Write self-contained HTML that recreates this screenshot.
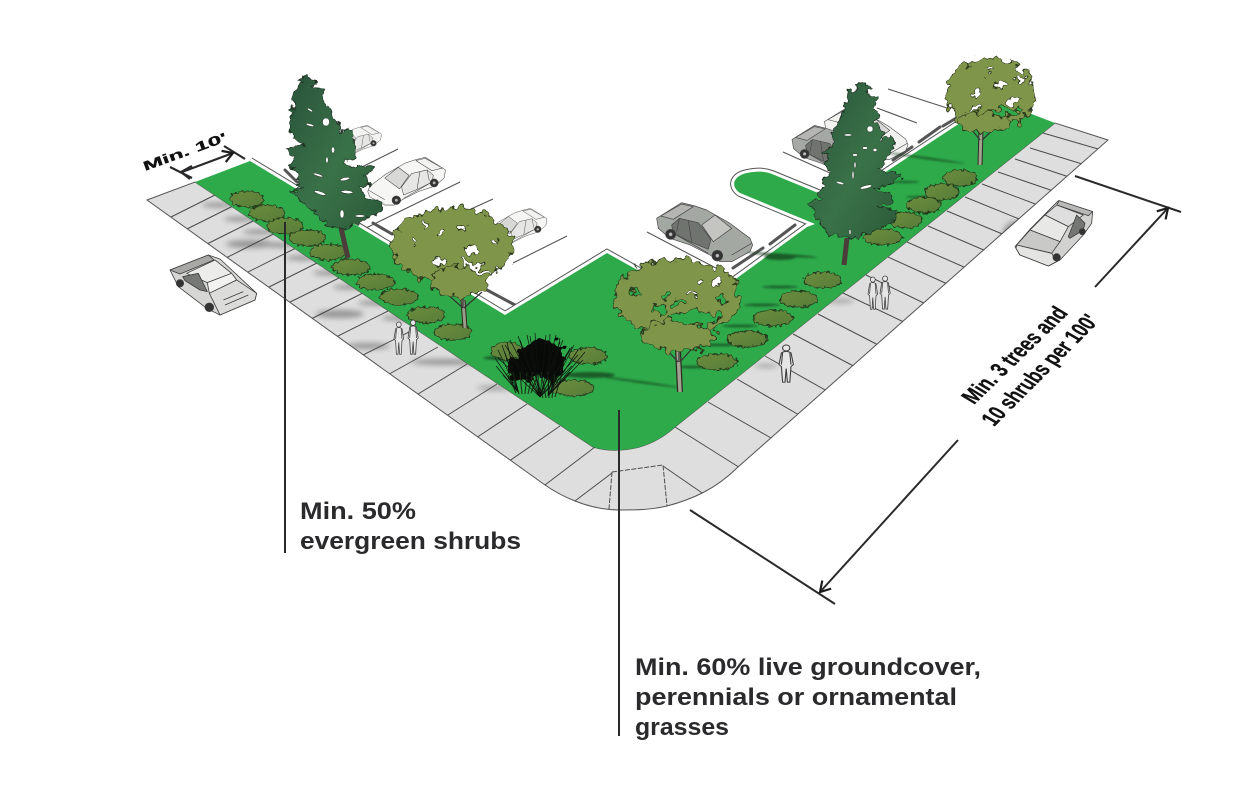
<!DOCTYPE html>
<html><head><meta charset="utf-8"><style>
html,body{margin:0;padding:0;background:#fff}
svg{display:block}
text{font-family:"Liberation Sans",sans-serif;font-weight:bold;fill:#2a2a2c}
</style></head><body>
<svg xmlns="http://www.w3.org/2000/svg" width="1244" height="791" viewBox="0 0 1244 791">
<defs>
<filter id="lobe" x="-25%" y="-25%" width="150%" height="150%" color-interpolation-filters="sRGB"><feTurbulence type="fractalNoise" baseFrequency=".12" numOctaves="2" seed="4"/><feDisplacementMap in="SourceGraphic" scale="17" xChannelSelector="R" yChannelSelector="G"/></filter>
<filter id="shrub" x="-25%" y="-40%" width="150%" height="180%" color-interpolation-filters="sRGB"><feTurbulence type="fractalNoise" baseFrequency=".3" numOctaves="1" seed="8"/><feDisplacementMap in="SourceGraphic" scale="6" xChannelSelector="R" yChannelSelector="G"/></filter>
<filter id="pinef" x="-15%" y="-10%" width="130%" height="120%" color-interpolation-filters="sRGB"><feTurbulence type="fractalNoise" baseFrequency=".16" numOctaves="2" seed="5"/><feDisplacementMap in="SourceGraphic" scale="9" xChannelSelector="R" yChannelSelector="G"/></filter>
<filter id="b2" x="-40%" y="-200%" width="180%" height="500%"><feGaussianBlur stdDeviation="2.6"/></filter>
<filter id="b1" x="-40%" y="-200%" width="180%" height="500%"><feGaussianBlur stdDeviation="1"/></filter>
<linearGradient id="pg" x1="0" y1="0" x2="1" y2="1"><stop offset="0" stop-color="#28523a"/><stop offset=".55" stop-color="#3a7248"/><stop offset="1" stop-color="#2b5939"/></linearGradient>
<linearGradient id="sh" x1="0" y1="0" x2="1" y2="1"><stop offset="0" stop-color="#6b8c3e"/><stop offset="1" stop-color="#587d39"/></linearGradient>
<clipPath id="walk"><path d="M147,200 L195,182 L593,447 Q606,451 620,450 Q650,449 675,427 L1055,123 L1108,140 L738,467 C715,490 690,500 667,506 C650,510 635,510 620,510 C605,510 590,507 575,501 C565,497 555,492 545,485Z"/></clipPath>
<marker id="ah" viewBox="0 0 14 14" refX="12" refY="7" markerWidth="14" markerHeight="14" orient="auto" markerUnits="userSpaceOnUse"><path d="M2,1 L12,7 L2,13" fill="none" stroke="#1c1c1c" stroke-width="2.2"/></marker>
<g id="car" stroke="#444" stroke-width="2" stroke-linejoin="round">
<path d="M50,85 L125,38 L165,48 L200,60 L270,100 L330,145 L338,165 L330,185 L275,215 L240,215 L210,195 L150,165 L90,145 L55,115Z"/>
<path d="M62,78 L125,42 L160,50 L100,88Z" style="fill:var(--t,#b5b5b3)"/>
<path d="M185,105 L225,75 L275,115 L220,155Z" style="fill:var(--g,#c4c4c0)"/>
<path d="M95,105 L118,85 L175,98 L213,148 L205,178 L150,155 L100,130Z" style="fill:var(--w,#70746f)"/>
<path d="M145,92 L155,155 M118,85 L110,125 M100,130 L205,190 M275,195 L335,160" fill="none"/>
<circle cx="92" cy="133" r="15" fill="#333"/><circle cx="92" cy="133" r="6" fill="#bbb"/>
<circle cx="232" cy="197" r="16" fill="#333"/><circle cx="232" cy="197" r="6" fill="#bbb"/>
</g>
<g id="man" fill="#e6e6e6" stroke="#3a3a3a" stroke-width=".9">
<circle cx="6" cy="3" r="3"/><path d="M2,8 Q6,5 10,8 L12,20 L10,22 L9,38 L7,38 L6,24 L5,38 L3,38 L2,22 L0,20Z"/><path d="M3,8 L2,20 M9,8 L10,20" fill="none"/>
</g>
</defs>
<rect width="1244" height="791" fill="#fff"/>

<g stroke="#555" stroke-width="1.1" fill="none">
<path d="M398,149 L360,168 M460,182 L366,228 M493,199 L460,214 M567,236 L513,263"/>
<path d="M647,232 L733,277 M783,152 L830,173 M888,89 L947,108 M877,108 L917,123"/>
</g>
<g stroke="#555" stroke-width="3" stroke-linecap="round" fill="none">
<path d="M285,170 L297,182 M373,223 L392,234 M487,290 L515,305"/>
<path d="M733,268 L763,248 M770,244 L795,225 M893,160 L912,147 M919,142 L940,127 M943,126 L958,117"/>
</g>
<g style="--w:#e6e6e4;--t:#f2f2f0;--g:#d8d8d6">
<use href="#car" transform="translate(391,118) scale(-.19,.19)" fill="#f4f4f2"/>
<use href="#car" transform="translate(459,147) scale(-.27,.27)" fill="#f6f6f4"/>
<use href="#car" transform="translate(558,200) scale(-.22,.22)" fill="#f6f6f4"/>
<use href="#car" transform="translate(810,97) scale(.29)" fill="#f2f2f0"/>
</g>
<use href="#car" transform="translate(777,114) scale(.3)" fill="#a5a8a4"/>
<use href="#car" transform="translate(640,190) scale(.3333)" fill="#a4a8a3"/>

<path d="M250,161 L505,315 L607,253 L700,305 L807,227 L815,224 L740,193 C730,186 733,176 747,173 C757,171 764,171 772,174 L840,202 L957,125 L995,100" fill="none" stroke="#555" stroke-width="8"/>
<path d="M250,161 L505,315 L607,253 L700,305 L807,227 L815,224 L740,193 C730,186 733,176 747,173 C757,171 764,171 772,174 L840,202 L957,125 L995,100" fill="none" stroke="#fff" stroke-width="6"/>

<path d="M147,200 L195,182 L593,447 Q606,451 620,450 Q650,449 675,427 L1055,123 L1108,140 L738,467 C715,490 690,500 667,506 C650,510 635,510 620,510 C605,510 590,507 575,501 C565,497 555,492 545,485Z" fill="#dedede" stroke="#555" stroke-width="1"/>
<path d="M195,182 L250,161 L505,315 L607,253 L700,305 L807,227 L815,224 L740,193 C730,186 733,176 747,173 C757,171 764,171 772,174 L840,202 L957,125 L995,100 L1055,123 L675,427 Q650,449 620,450 Q606,451 593,447Z" fill="#2eaa4b"/>

<g clip-path="url(#walk)">
<g stroke="#4c4c4c" stroke-width="1" fill="none">
<path d="M165,220L215,195M181,232L232,206.5M201,247L253,221M220,261L273.5,234M240,276L295,248.5M261,291L317,263M282,306L339,278M305,322L362,293.5M330,340L388,311M355,359L415,329M382,378L438,347M410,399L467,364M440,420L497,384M470,442L527,404M502,466L560,426M537,491L595,447M567,507L612,473M663,466L708,497M675,427L745,471"/>
<path d="M708,402L778,442M737,379L806,419M765,356L834,395M793,334L861,370M818,314L886,349M843,293L910,325M866,275L932,307M888,257L954,287M907,242L973,271M928,226L993,254M947,211L1012,238M965,197L1029,223M982,184L1046,208M998,172L1062,194M1015,159L1078,180M1030,148L1092,167M1043,133L1105,151"/>
<path d="M612,472 L663,465 L667,506 M612,472 L609,509" stroke-dasharray="5 1.5"/>
</g>
<g fill="#333" opacity=".42" filter="url(#b2)">
<ellipse cx="218" cy="205" rx="16" ry="2.5"/><ellipse cx="240" cy="219" rx="16" ry="2.5"/><ellipse cx="259" cy="232" rx="16" ry="2.5"/>
<ellipse cx="250" cy="244" rx="24" ry="4"/><ellipse cx="279" cy="245" rx="16" ry="2.5"/><ellipse cx="302" cy="258" rx="16" ry="2.5"/>
<ellipse cx="329" cy="273" rx="16" ry="2.5"/><ellipse cx="349" cy="287" rx="16" ry="2.5"/><ellipse cx="340" cy="314" rx="24" ry="4"/>
<ellipse cx="374" cy="303" rx="16" ry="2.5"/><ellipse cx="398" cy="318" rx="16" ry="2.5"/><ellipse cx="368" cy="346" rx="22" ry="3"/>
<ellipse cx="445" cy="362" rx="34" ry="3"/><ellipse cx="495" cy="388" rx="18" ry="2"/>
<ellipse cx="1012" cy="230" rx="11" ry="7" transform="rotate(-45 1012 230)"/>
<ellipse cx="840" cy="301" rx="14" ry="1.8"/><ellipse cx="766" cy="366" rx="12" ry="1.5"/>
</g>
</g>
<g fill="#16401f" opacity=".75" filter="url(#b1)">
<ellipse cx="905" cy="182" rx="14" ry="1"/><ellipse cx="920" cy="197" rx="14" ry="1"/><ellipse cx="780" cy="287" rx="18" ry="1.3"/><ellipse cx="762" cy="305" rx="18" ry="1.3"/><ellipse cx="740" cy="326" rx="18" ry="1.3"/><ellipse cx="720" cy="345" rx="18" ry="1.3"/><ellipse cx="695" cy="367" rx="18" ry="1.3"/>
<ellipse cx="782" cy="255" rx="35" ry="1.3" transform="rotate(4 782 255)"/><ellipse cx="780" cy="257" rx="16" ry="3"/>
<ellipse cx="640" cy="382" rx="40" ry="1" transform="rotate(8 640 382)"/><ellipse cx="590" cy="375" rx="25" ry="3"/>
<ellipse cx="925" cy="158" rx="40" ry="1" transform="rotate(8 925 158)"/>
<ellipse cx="505" cy="358" rx="22" ry="2"/>
</g>

<g fill="url(#sh)" stroke="#24391c" stroke-width="1" filter="url(#shrub)">
<ellipse cx="247" cy="199" rx="17" ry="8"/><ellipse cx="267" cy="213" rx="18" ry="8"/><ellipse cx="285" cy="226" rx="18" ry="8"/><ellipse cx="307" cy="238" rx="18" ry="8"/><ellipse cx="328" cy="252" rx="18" ry="8"/><ellipse cx="351" cy="267" rx="19" ry="8"/><ellipse cx="376" cy="282" rx="19" ry="8"/><ellipse cx="399" cy="297" rx="19" ry="8"/><ellipse cx="426" cy="315" rx="19" ry="8"/><ellipse cx="453" cy="332" rx="19" ry="8"/>
<ellipse cx="960" cy="178" rx="17" ry="8"/><ellipse cx="942" cy="192" rx="17" ry="8"/><ellipse cx="924" cy="205" rx="17" ry="8"/><ellipse cx="905" cy="220" rx="17" ry="8"/><ellipse cx="883" cy="237" rx="19" ry="8"/><ellipse cx="823" cy="280" rx="19" ry="8"/><ellipse cx="799" cy="299" rx="19" ry="8"/><ellipse cx="773" cy="318" rx="20" ry="8"/><ellipse cx="747" cy="339" rx="20" ry="8"/><ellipse cx="717" cy="362" rx="20" ry="8"/>
<ellipse cx="507" cy="351" rx="16" ry="9"/><ellipse cx="588" cy="356" rx="19" ry="8"/><ellipse cx="573" cy="388" rx="21" ry="8"/>
</g>

<g>
<g filter="url(#lobe)" fill="#080a08">
<ellipse cx="542" cy="356" rx="24" ry="16"/>
<ellipse cx="522" cy="370" rx="15" ry="12"/>
<ellipse cx="548" cy="372" rx="14" ry="9"/>
</g>
<path d="M516,393L508,375M519,394L513,372M522,394L520,372M525,394L527,372M528,394L533,372M531,393L538,374M543,398L535,375M546,398L541,372M549,398L548,372M552,398L555,372M555,397L562,374" stroke="#1c3216" stroke-width="1.1" fill="none"/>
<path d="M540,397L505,345M540,397L510,340M540,397L518,336M540,397L527,335M540,397L535,333M540,397L546,335M540,397L556,335M540,397L563,340M540,397L572,347M540,397L578,355M540,397L572,366M540,397L510,356M540,397L498,358M518,392L498,350M518,392L496,366M518,392L503,375M518,392L495,358M518,392L507,342M548,396L578,350M548,396L583,360M548,396L560,338M548,396L550,334M548,396L570,372M540,397L520,340M540,397L530,336M540,397L560,342M540,397L568,352M518,392L502,345M518,392L505,353M548,396L574,345M548,396L570,348M548,396L585,352" stroke="#0e130e" stroke-width=".7" fill="none"/>
</g>

<path d="M341,228 L348,258" stroke="#4b3d3a" stroke-width="5"/>
<g filter="url(#pinef)">
<path transform="translate(270,70) scale(.3333)" d="M110,15 L140,35 L125,50 L160,60 L155,90 L185,125 L210,175 L205,190 L240,175 L255,210 L255,260 L220,282 L250,290 L310,285 L312,305 L280,315 L300,345 L270,355 L290,385 L340,400 L330,430 L280,450 L220,478 L170,470 L150,440 L100,398 L60,368 L95,355 L80,345 L90,320 L62,285 L70,262 L48,230 L100,225 L60,190 L55,155 L70,130 L60,120 L80,100 L65,90 L70,60 L95,40 L85,25Z" fill="url(#pg)" stroke="#1d2e20" stroke-width="2.4"/>
</g>
<g fill="#fff" stroke="#2a3a2a" stroke-width=".5">
<ellipse cx="326" cy="122" rx="3.5" ry="4"/><ellipse cx="310" cy="125" rx="4" ry="1.2" transform="rotate(15 310 125)"/><ellipse cx="310" cy="110" rx="3" ry="1" transform="rotate(30 310 110)"/>
<ellipse cx="333" cy="150" rx="1.6" ry="3"/><ellipse cx="327" cy="160" rx="1.2" ry="3"/>
<ellipse cx="318" cy="175" rx="5" ry="1.2" transform="rotate(18 318 175)"/><ellipse cx="345" cy="179" rx="5" ry="1.5" transform="rotate(-12 345 179)"/><ellipse cx="347" cy="192" rx="6" ry="1.5" transform="rotate(5 347 192)"/>
<ellipse cx="320" cy="193" rx="6" ry="1.5" transform="rotate(18 320 193)"/><ellipse cx="342" cy="214" rx="2" ry="4"/><ellipse cx="360" cy="216" rx="5" ry="1.2"/>
</g>
<path d="M847,238 L844,265" stroke="#4b3d3a" stroke-width="5"/>
<g filter="url(#pinef)">
<path transform="translate(780,75) scale(.3333)" d="M255,20 L280,40 L260,55 L292,65 L285,100 L300,120 L285,140 L310,175 L302,195 L330,180 L345,200 L335,230 L310,260 L300,285 L345,290 L365,300 L340,320 L280,345 L330,350 L340,385 L290,395 L355,410 L340,440 L290,465 L215,490 L195,485 L150,480 L120,445 L85,380 L125,375 L110,355 L135,335 L125,315 L155,290 L130,265 L150,250 L130,235 L160,210 L160,165 L175,145 L190,110 L190,90 L205,65 L200,50 L235,40 L230,30Z" fill="url(#pg)" stroke="#1d2e20" stroke-width="2.4"/>
</g>
<g fill="#fff" stroke="#2a3a2a" stroke-width=".5">
<ellipse cx="870" cy="129" rx="3" ry="3"/><ellipse cx="848" cy="135" rx="4" ry="1.1"/><ellipse cx="865" cy="148" rx="2.5" ry="1.3"/><ellipse cx="875" cy="150" rx="2" ry="1.6"/>
<ellipse cx="855" cy="155" rx="2.5" ry="1.2"/><ellipse cx="855" cy="165" rx="1" ry="3"/><ellipse cx="840" cy="183" rx="4" ry="1.1" transform="rotate(15 840 183)"/>
<ellipse cx="866" cy="187" rx="6" ry="1.6" transform="rotate(-14 866 187)"/><ellipse cx="853" cy="175" rx="1" ry="4"/><ellipse cx="850" cy="232" rx="1" ry="2.5"/>
</g>

<path d="M463,300 L465,328" stroke="#2a2a22" stroke-width="5"/><path d="M463,300 L465,328" stroke="#9a9a88" stroke-width="3"/>
<path d="M445,292 L463,308 M482,292 L464,308 M463,290 L463,308" stroke="#333" stroke-width="1.2" fill="none"/>
<g filter="url(#lobe)" stroke="#2a361c" stroke-width="1">
<ellipse cx="452" cy="246" rx="60" ry="38" fill="#7f9549"/>
<ellipse cx="458" cy="282" rx="30" ry="15" fill="#7f9549"/>
<ellipse cx="475" cy="267" rx="18" ry="3" transform="rotate(25 475 267)" fill="#fff"/>
<ellipse cx="472" cy="250" rx="7" ry="4" fill="#fff"/><ellipse cx="440" cy="232" rx="4" ry="3" fill="#fff"/><ellipse cx="415" cy="240" rx="2.5" ry="2.5" fill="#fff"/><ellipse cx="440" cy="262" rx="5" ry="3" fill="#fff"/><ellipse cx="495" cy="240" rx="4" ry="3" fill="#fff"/><ellipse cx="425" cy="225" rx="2.5" ry="2" fill="#fff"/><ellipse cx="462" cy="228" rx="3.5" ry="3" fill="#fff"/>
</g>
<path d="M678,350 L680,392" stroke="#2a2a22" stroke-width="6"/><path d="M678,350 L680,392" stroke="#a2a290" stroke-width="3.5"/>
<path d="M660,342 L678,362 M698,342 L680,362 M679,340 L679,362" stroke="#333" stroke-width="1.2" fill="none"/>
<g filter="url(#lobe)" stroke="#2a361c" stroke-width="1">
<ellipse cx="677" cy="297" rx="63" ry="38" fill="#7f9549"/>
<ellipse cx="678" cy="336" rx="38" ry="15" fill="#7f9549"/>
<ellipse cx="695" cy="318" rx="25" ry="6" fill="#2eaa4b"/>
<ellipse cx="660" cy="309" rx="5" ry="3.5" fill="#2eaa4b"/><ellipse cx="635" cy="293" rx="3" ry="2" fill="#2eaa4b"/><ellipse cx="665" cy="296" rx="4" ry="3" fill="#2eaa4b"/><ellipse cx="680" cy="303" rx="6" ry="3" fill="#2eaa4b"/><ellipse cx="722" cy="300" rx="5" ry="4" fill="#2eaa4b"/><ellipse cx="700" cy="282" rx="4" ry="3" fill="#fff"/><ellipse cx="692" cy="293" rx="4" ry="2" fill="#fff"/><ellipse cx="715" cy="283" rx="3" ry="3" fill="#fff"/>
</g>
<path d="M981,130 L980,165" stroke="#2a2a22" stroke-width="5"/><path d="M981,130 L980,165" stroke="#a2a290" stroke-width="3"/>
<path d="M968,125 L980,140 M998,125 L982,140" stroke="#333" stroke-width="1.2" fill="none"/>
<g filter="url(#lobe)" stroke="#2a361c" stroke-width="1">
<ellipse cx="990" cy="94" rx="45" ry="35" fill="#7f9549"/>
<ellipse cx="985" cy="122" rx="26" ry="10" fill="#7f9549"/>
<ellipse cx="1005" cy="112" rx="17" ry="4" fill="#2eaa4b"/>
<ellipse cx="1000" cy="85" rx="6" ry="4" fill="#fff"/><ellipse cx="975" cy="95" rx="4" ry="3" fill="#fff"/><ellipse cx="1015" cy="100" rx="7" ry="4" fill="#fff"/><ellipse cx="975" cy="108" rx="6" ry="3" fill="#fff"/><ellipse cx="990" cy="70" rx="3" ry="2" fill="#fff"/><ellipse cx="1020" cy="80" rx="4" ry="3" fill="#fff"/>
</g>

<g transform="translate(120,60) scale(.3333)" stroke="#3d3d3d" stroke-width="2.4" stroke-linejoin="round">
<path d="M150,630 L265,585 L300,597 L410,700 L405,720 L300,765 L260,745 L175,680Z" fill="#d6d6d4"/>
<path d="M150,630 L265,585 L282,600 L180,642Z" fill="#a8a8a6"/>
<path d="M200,640 L285,600 L335,640 L262,668Z" fill="#ececea"/>
<path d="M262,668 L335,640 L350,660 L268,700Z" fill="#f2f2f0"/>
<path d="M268,700 L350,660 L410,700 L405,720 L300,765Z" fill="#dcdcda"/>
<path d="M188,650 L235,640 L262,695 L240,690 L195,662Z" fill="#757874"/>
<path d="M310,720 L370,695 M315,735 L385,705" fill="none"/>
<circle cx="180" cy="670" r="11" fill="#333"/><circle cx="268" cy="742" r="13" fill="#333"/>
</g>
<g transform="translate(920,170) scale(.3333)" stroke="#3d3d3d" stroke-width="2.4" stroke-linejoin="round">
<path d="M285,230 L330,178 L415,92 L518,125 L515,160 L490,195 L420,270 L385,288 L300,255Z" fill="#d2d2d0"/>
<path d="M418,92 L518,125 L505,137 L410,105Z" fill="#b9b9b7"/>
<path d="M375,135 L410,105 L490,135 L445,170Z" fill="#dedede"/>
<path d="M330,180 L375,135 L445,170 L420,215Z" fill="#e8e8e6"/>
<path d="M290,225 L330,180 L420,215 L395,250Z" fill="#c9c9c7"/>
<path d="M445,200 L470,135 L495,160 L490,180 L450,205Z" fill="#737672"/>
<path d="M288,235 L300,255 L385,288 L410,275 L395,250 L290,225Z" fill="#e4e4e2"/>
<circle cx="410" cy="262" r="11" fill="#333"/><circle cx="487" cy="185" r="9" fill="#333"/>
</g>

<use href="#man" transform="translate(394,322) scale(.8,.85)"/>
<use href="#man" transform="translate(408,320) scale(.85,.9)"/>
<use href="#man" transform="translate(868,277) scale(.8,.85)"/>
<use href="#man" transform="translate(880,276) scale(.85,.87)"/>
<use href="#man" transform="translate(779,345) scale(1.2,.98)" />

<g stroke="#2a2a2c" fill="none">
<path d="M285,222 V553" stroke-width="2"/>
<path d="M619,410 V736" stroke-width="2"/>
<path d="M690,510 L835,604" stroke-width="2"/>
<path d="M1075,176 L1181,212" stroke-width="2"/>
<path d="M958,440 L820,592" stroke-width="2" marker-end="url(#ah)"/>
<path d="M1095,287 L1168,208" stroke-width="2" marker-end="url(#ah)"/>
<path d="M170,167 L192,178 M224,146 L245,159" stroke-width="2.2"/>
<path d="M182,172 L233,153" stroke-width="2.2" marker-end="url(#ah)"/>
<path d="M192,166 L181,172 L190,179" stroke-width="2.2"/>
</g>

<text x="300" y="519" font-size="24" textLength="116" lengthAdjust="spacingAndGlyphs">Min. 50%</text>
<text x="300" y="549" font-size="24" textLength="221" lengthAdjust="spacingAndGlyphs">evergreen shrubs</text>
<text x="635" y="675" font-size="24" textLength="346" lengthAdjust="spacingAndGlyphs">Min. 60% live groundcover,</text>
<text x="635" y="705" font-size="24" textLength="322" lengthAdjust="spacingAndGlyphs">perennials or ornamental</text>
<text x="635" y="735" font-size="24" textLength="94" lengthAdjust="spacingAndGlyphs">grasses</text>
<text transform="translate(974,405) rotate(-44) skewX(15)" font-size="23" textLength="132" lengthAdjust="spacingAndGlyphs" style="fill:#111" stroke="#111" stroke-width=".3">Min. 3 trees and</text>
<text transform="translate(994,427) rotate(-45) skewX(15)" font-size="23" textLength="150" lengthAdjust="spacingAndGlyphs" style="fill:#111" stroke="#111" stroke-width=".3">10 shrubs per 100'</text>
<text transform="translate(145,171) rotate(-20)" font-size="13" textLength="88" lengthAdjust="spacingAndGlyphs" style="fill:#111" stroke="#111" stroke-width=".3">Min. 10'</text>
</svg>
</body></html>
